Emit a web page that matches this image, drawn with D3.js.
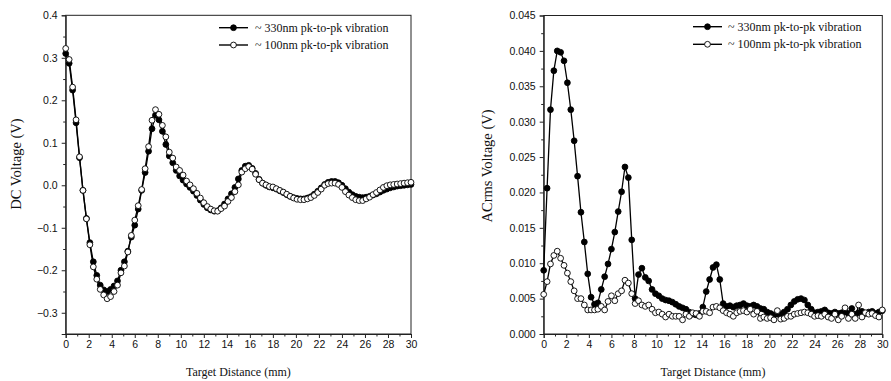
<!DOCTYPE html>
<html><head><meta charset="utf-8">
<script src="https://cdn.jsdelivr.net/npm/d3@7/dist/d3.min.js"></script>
<style>body{margin:0;background:#fff} svg{display:block}</style>
</head><body>
<svg id="c" width="891" height="381"></svg>
<script>
// ---------------- DATA ----------------
const distance = [0,0.3,0.6,0.9,1.2,1.5,1.8,2.1,2.4,2.7,
3,3.3,3.6,3.9,4.2,4.5,4.8,5.1,5.4,5.7,
6,6.3,6.6,6.9,7.2,7.5,7.8,8.1,8.4,8.7,
9,9.3,9.6,9.9,10.2,10.5,10.8,11.1,11.4,11.7,
12,12.3,12.6,12.9,13.2,13.5,13.8,14.1,14.4,14.7,
15,15.3,15.6,15.9,16.2,16.5,16.8,17.1,17.4,17.7,
18,18.3,18.6,18.9,19.2,19.5,19.8,20.1,20.4,20.7,
21,21.3,21.6,21.9,22.2,22.5,22.8,23.1,23.4,23.7,
24,24.3,24.6,24.9,25.2,25.5,25.8,26.1,26.4,26.7,
27,27.3,27.6,27.9,28.2,28.5,28.8,29.1,29.4,29.7,
30];

const dc330 = [0.310,0.287,0.224,0.147,0.065,-0.012,-0.078,-0.135,-0.180,-0.212,
-0.235,-0.246,-0.250,-0.245,-0.237,-0.225,-0.200,-0.180,-0.155,-0.122,
-0.094,-0.056,-0.012,0.030,0.080,0.133,0.165,0.154,0.127,0.096,
0.069,0.053,0.035,0.022,0.012,0.003,-0.005,-0.014,-0.024,-0.035,
-0.045,-0.053,-0.058,-0.061,-0.060,-0.053,-0.044,-0.032,-0.020,-0.005,
0.015,0.035,0.045,0.047,0.040,0.028,0.014,0.005,0.000,-0.004,
-0.006,-0.009,-0.013,-0.017,-0.022,-0.026,-0.029,-0.031,-0.032,-0.032,
-0.030,-0.027,-0.021,-0.014,-0.006,0.002,0.007,0.009,0.009,0.006,
0.000,-0.008,-0.016,-0.022,-0.026,-0.028,-0.029,-0.028,-0.026,-0.023,
-0.020,-0.016,-0.012,-0.009,-0.006,-0.004,-0.002,-0.001,0.000,0.001,
0.002];

const dc100 = [0.322,0.296,0.231,0.154,0.067,-0.012,-0.079,-0.140,-0.192,-0.221,
-0.245,-0.258,-0.267,-0.262,-0.250,-0.235,-0.206,-0.190,-0.157,-0.118,
-0.082,-0.048,-0.010,0.039,0.091,0.153,0.178,0.167,0.141,0.114,
0.078,0.064,0.043,0.035,0.024,0.010,0.001,-0.008,-0.019,-0.030,
-0.041,-0.050,-0.056,-0.060,-0.061,-0.055,-0.049,-0.038,-0.029,-0.015,
0.001,0.031,0.039,0.044,0.038,0.026,0.013,0.005,0.001,-0.003,
-0.004,-0.008,-0.012,-0.016,-0.021,-0.026,-0.030,-0.033,-0.034,-0.034,
-0.032,-0.029,-0.024,-0.017,-0.009,0.000,0.004,0.005,0.005,0.002,
-0.005,-0.015,-0.023,-0.029,-0.034,-0.036,-0.036,-0.032,-0.028,-0.022,
-0.017,-0.011,-0.005,-0.001,0.001,0.002,0.003,0.004,0.005,0.006,
0.007];

const ac330 = [0.0090,0.0206,0.0317,0.0372,0.0400,0.0398,0.0386,0.0355,0.0317,0.0273,
0.0223,0.0172,0.0130,0.0085,0.0052,0.0042,0.0044,0.0063,0.0081,0.0099,
0.0120,0.0144,0.0173,0.0201,0.0236,0.0221,0.0133,0.0050,0.0084,0.0093,
0.0080,0.0075,0.0063,0.0057,0.0054,0.0050,0.0048,0.0047,0.0045,0.0042,
0.0039,0.0037,0.0035,0.0031,0.0028,0.0027,0.0029,0.0038,0.0060,0.0077,
0.0094,0.0098,0.0077,0.0043,0.0039,0.0040,0.0038,0.0040,0.0041,0.0043,
0.0040,0.0039,0.0041,0.0039,0.0036,0.0035,0.0031,0.0029,0.0027,0.0028,
0.0028,0.0031,0.0035,0.0041,0.0046,0.0049,0.0050,0.0048,0.0041,0.0035,
0.0030,0.0031,0.0032,0.0034,0.0030,0.0029,0.0031,0.0029,0.0030,0.0031,
0.0029,0.0036,0.0028,0.0030,0.0032,0.0029,0.0031,0.0032,0.0029,0.0031,
0.0033];

const ac100 = [0.0056,0.0074,0.0099,0.0111,0.0117,0.0107,0.0097,0.0086,0.0074,0.0061,
0.0050,0.0050,0.0041,0.0034,0.0034,0.0034,0.0035,0.0039,0.0034,0.0046,
0.0054,0.0047,0.0057,0.0061,0.0076,0.0072,0.0057,0.0043,0.0047,0.0041,
0.0039,0.0041,0.0035,0.0030,0.0031,0.0028,0.0024,0.0028,0.0025,0.0025,
0.0025,0.0020,0.0028,0.0025,0.0030,0.0029,0.0025,0.0032,0.0032,0.0030,
0.0038,0.0039,0.0037,0.0033,0.0030,0.0028,0.0025,0.0030,0.0032,0.0033,
0.0031,0.0035,0.0028,0.0032,0.0022,0.0024,0.0022,0.0023,0.0020,0.0033,
0.0021,0.0022,0.0025,0.0025,0.0028,0.0029,0.0030,0.0031,0.0030,0.0028,
0.0025,0.0026,0.0025,0.0028,0.0024,0.0022,0.0028,0.0020,0.0025,0.0037,
0.0022,0.0028,0.0022,0.0041,0.0024,0.0030,0.0028,0.0029,0.0026,0.0024,
0.0034];

const xTicks = [0,2,4,6,8,10,12,14,16,18,20,22,24,26,28,30];
const xMinorTicks = [1,3,5,7,9,11,13,15,17,19,21,23,25,27,29];
const dcTicks = [-0.3,-0.2,-0.1,0.0,0.1,0.2,0.3,0.4];
const dcMinorTicks = [-0.35,-0.25,-0.15,-0.05,0.05,0.15,0.25,0.35];
const acTicks = [0.000,0.005,0.010,0.015,0.020,0.025,0.030,0.035,0.040,0.045];
const acMinorTicks = [0.0025,0.0075,0.0125,0.0175,0.0225,0.0275,0.0325,0.0375,0.0425];
const seriesLabels = ["~ 330nm pk-to-pk vibration", "~ 100nm pk-to-pk vibration"];
const xTitle = "Target Distance (mm)";
const dcTitle = "DC Voltage (V)";
const acTitle = "ACrms Voltage (V)";

// ---------------- DRAW ----------------
const svg = d3.select("#c");
const SANS = "'Liberation Sans', Arial, sans-serif";
const SERIF = "'Liberation Serif', 'Times New Roman', serif";

function panel(o) {
  const g = svg.append("g");
  const x = d3.scaleLinear().domain([0, 30]).range([o.left, o.right]);
  const y = d3.scaleLinear().domain(o.yDomain).range([o.bottom, o.top]);

  // frame
  g.append("rect").attr("x", o.left).attr("y", o.top)
    .attr("width", o.right - o.left).attr("height", o.bottom - o.top)
    .attr("fill", "none").attr("stroke", "#222").attr("stroke-width", 1);

  // x axis
  const xa = g.append("g").attr("transform", `translate(0,${o.bottom})`)
    .call(d3.axisBottom(x).tickValues(xTicks).tickSize(4).tickPadding(3).tickFormat(d3.format("d")));
  g.append("g").attr("transform", `translate(0,${o.bottom})`)
    .call(d3.axisBottom(x).tickValues(xMinorTicks).tickSize(2.5).tickFormat(""))
    .select(".domain").remove();
  // y axis
  const ya = g.append("g").attr("transform", `translate(${o.left},0)`)
    .call(d3.axisLeft(y).tickValues(o.yTicks).tickSize(4).tickPadding(4).tickFormat(o.fmt));
  g.append("g").attr("transform", `translate(${o.left},0)`)
    .call(d3.axisLeft(y).tickValues(o.yMinor).tickSize(2.5).tickFormat(""))
    .select(".domain").remove();
  g.selectAll(".domain").attr("stroke", "#222");
  g.selectAll(".tick line").attr("stroke", "#222");
  [xa, ya].forEach(a => a.selectAll("text")
    .attr("font-family", SANS).attr("font-size", 10.5).attr("fill", "#111"));

  // titles
  g.append("text").attr("x", (o.left + o.right) / 2).attr("y", o.bottom + 42)
    .attr("text-anchor", "middle").attr("font-family", SERIF).attr("font-size", 12)
    .attr("fill", "#111").text(xTitle);
  g.append("text").attr("transform", `translate(${o.yTitleX},${o.yTitleY}) rotate(-90)`)
    .attr("text-anchor", "middle").attr("font-family", SERIF).attr("font-size", o.yTitleSize)
    .attr("fill", "#111").text(o.yTitle);

  // series
  const line = d3.line().x((d, i) => x(distance[i])).y(d => y(d));
  const series = [
    {vals: o.s1, fill: "#000"},
    {vals: o.s2, fill: "#fff"}
  ];
  series.forEach(s => {
    g.append("path").datum(s.vals).attr("d", line)
      .attr("fill", "none").attr("stroke", "#000").attr("stroke-width", 1.3);
    g.append("g").selectAll("circle").data(s.vals).join("circle")
      .attr("cx", (d, i) => x(distance[i])).attr("cy", d => y(d))
      .attr("r", 2.9).attr("fill", s.fill).attr("stroke", "#000").attr("stroke-width", 0.9);
  });

  // legend
  seriesLabels.forEach((lab, k) => {
    const ly = o.legY[k];
    g.append("line").attr("x1", o.legX0).attr("x2", o.legX1).attr("y1", ly).attr("y2", ly)
      .attr("stroke", "#000").attr("stroke-width", 1.4);
    g.append("circle").attr("cx", (o.legX0 + o.legX1) / 2).attr("cy", ly).attr("r", 2.9)
      .attr("fill", series[k].fill).attr("stroke", "#000").attr("stroke-width", 0.9);
    g.append("text").attr("x", o.legTx).attr("y", ly + 4)
      .attr("font-family", SERIF).attr("font-size", 12).attr("fill", "#111").text(lab);
  });
}

panel({
  left: 65.7, right: 411, top: 15.3, bottom: 334,
  yDomain: [-0.35, 0.4], yTicks: dcTicks, yMinor: dcMinorTicks, fmt: d3.format(".1f"),
  s1: dc330, s2: dc100,
  yTitle: dcTitle, yTitleX: 21, yTitleY: 164, yTitleSize: 14.5,
  legX0: 219, legX1: 248, legTx: 255, legY: [27.7, 45]
});
panel({
  left: 543.7, right: 882.3, top: 15.5, bottom: 334,
  yDomain: [0, 0.045], yTicks: acTicks, yMinor: acMinorTicks, fmt: d3.format(".3f"),
  s1: ac330, s2: ac100,
  yTitle: acTitle, yTitleX: 492, yTitleY: 166, yTitleSize: 14.5,
  legX0: 693, legX1: 722, legTx: 728, legY: [26.7, 44.3]
});
</script>
</body></html>
